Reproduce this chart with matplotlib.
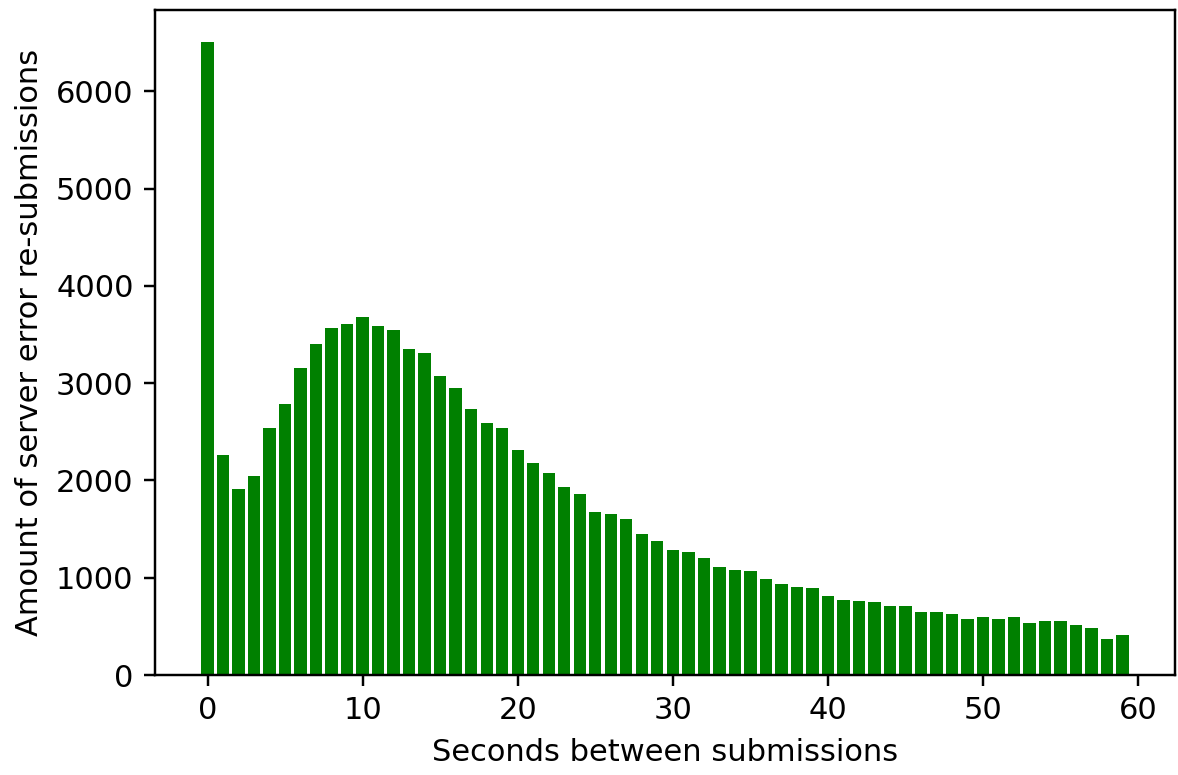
import numpy as np
import matplotlib
matplotlib.use('Agg')
import matplotlib.pyplot as plt

# seconds between submissions (0..59) and counts
seconds = np.arange(60)
counts = [6510, 2257, 1914, 2041, 2538, 2787, 3161, 3401, 3568, 3613,
          3685, 3593, 3548, 3356, 3308, 3069, 2946, 2730, 2594, 2538,
          2312, 2178, 2075, 1928, 1860, 1678, 1657, 1600, 1452, 1374,
          1281, 1261, 1199, 1110, 1079, 1065, 986, 932, 907, 894,
          815, 771, 760, 747, 712, 712, 647, 647, 623, 578,
          599, 578, 599, 531, 555, 555, 510, 486, 373, 408]

dpi = 220
fig, ax = plt.subplots(figsize=(1178 / dpi, 775 / dpi), dpi=dpi)
fig.subplots_adjust(left=0.1316, right=0.9975, top=0.987, bottom=0.129)

ax.bar(seconds, counts, color='green')
ax.set_xlabel('Seconds between submissions')
ax.set_ylabel('Amount of server error re-submissions')

fig.savefig('out.png', dpi=dpi)
